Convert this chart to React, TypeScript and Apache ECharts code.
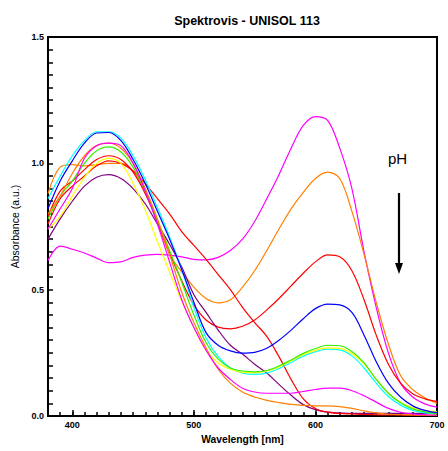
import React, { useEffect, useRef } from "react";
import * as echarts from "echarts";

const wavelengths = [380, 390, 400, 410, 420, 430, 440, 450, 460, 470, 480, 490, 500, 510, 520, 530, 540, 550, 560, 570, 580, 590, 600, 610, 620, 630, 640, 650, 660, 670, 680, 690, 700];

const magentaHigh = [0.615, 0.672, 0.66, 0.645, 0.625, 0.607, 0.61, 0.628, 0.637, 0.64, 0.637, 0.63, 0.62, 0.618, 0.628, 0.655, 0.7, 0.77, 0.86, 0.955, 1.06, 1.15, 1.185, 1.17, 1.06, 0.9, 0.65, 0.43, 0.25, 0.13, 0.075, 0.048, 0.035];
const orangeHigh = [0.88, 0.985, 0.995, 0.99, 0.995, 1.0, 1.0, 0.97, 0.89, 0.77, 0.64, 0.57, 0.51, 0.465, 0.448, 0.46, 0.51, 0.575, 0.655, 0.74, 0.82, 0.885, 0.94, 0.965, 0.94, 0.81, 0.64, 0.45, 0.285, 0.16, 0.105, 0.072, 0.05];
const redHigh = [0.79, 0.89, 0.93, 0.975, 1.015, 1.03, 1.015, 0.965, 0.88, 0.77, 0.645, 0.535, 0.44, 0.38, 0.352, 0.345, 0.355, 0.38, 0.42, 0.465, 0.515, 0.565, 0.61, 0.638, 0.63, 0.575, 0.46, 0.32, 0.205, 0.13, 0.088, 0.068, 0.058];
const blue = [0.82, 0.93, 1.01, 1.08, 1.12, 1.122, 1.09, 1.015, 0.92, 0.81, 0.7, 0.58, 0.45, 0.33, 0.28, 0.258, 0.249, 0.252, 0.268, 0.3, 0.34, 0.385, 0.425, 0.443, 0.44, 0.41, 0.32, 0.215, 0.13, 0.075, 0.04, 0.022, 0.013];
const green = [0.78, 0.87, 0.93, 1.0, 1.05, 1.065, 1.045, 0.985, 0.89, 0.775, 0.655, 0.53, 0.4, 0.29, 0.225, 0.19, 0.178, 0.175, 0.18, 0.198, 0.222, 0.248, 0.267, 0.28, 0.278, 0.255, 0.21, 0.145, 0.09, 0.052, 0.028, 0.016, 0.01];
const yellow = [0.74, 0.79, 0.87, 0.945, 1.0, 1.02, 1.0, 0.92, 0.815, 0.69, 0.57, 0.455, 0.35, 0.26, 0.21, 0.185, 0.173, 0.172, 0.178, 0.194, 0.218, 0.243, 0.26, 0.27, 0.268, 0.247, 0.205, 0.145, 0.09, 0.054, 0.032, 0.022, 0.017];
const cyan = [0.86, 0.95, 1.03, 1.09, 1.125, 1.125, 1.1, 1.03, 0.935, 0.825, 0.71, 0.58, 0.43, 0.31, 0.235, 0.19, 0.17, 0.165, 0.17, 0.188, 0.212, 0.237, 0.255, 0.265, 0.262, 0.238, 0.19, 0.13, 0.077, 0.043, 0.022, 0.012, 0.008];
const magentaLow = [0.74, 0.82, 0.9, 1.02, 1.07, 1.08, 1.07, 1.0, 0.89, 0.76, 0.61, 0.46, 0.35, 0.26, 0.19, 0.145, 0.11, 0.095, 0.09, 0.09, 0.09, 0.097, 0.105, 0.11, 0.11, 0.1, 0.08, 0.055, 0.03, 0.015, 0.008, 0.005, 0.004];
const orangeLow = [0.8, 0.87, 0.96, 1.03, 1.07, 1.08, 1.06, 1.0, 0.9, 0.78, 0.64, 0.49, 0.37, 0.27, 0.185, 0.13, 0.095, 0.075, 0.062, 0.053, 0.046, 0.042, 0.04, 0.04, 0.037, 0.03, 0.02, 0.012, 0.007, 0.005, 0.004, 0.003, 0.003];
const purple = [0.7, 0.78, 0.85, 0.91, 0.945, 0.955, 0.94, 0.9, 0.84, 0.76, 0.68, 0.59, 0.48, 0.41, 0.34, 0.28, 0.245, 0.205, 0.17, 0.125, 0.082, 0.045, 0.025, 0.015, 0.012, 0.01, 0.01, 0.01, 0.01, 0.01, 0.01, 0.01, 0.01];
const redLow = [0.76, 0.86, 0.91, 0.95, 0.99, 1.01, 1.0, 0.97, 0.92, 0.86, 0.8, 0.73, 0.675, 0.62, 0.56, 0.5, 0.43, 0.37, 0.315, 0.235, 0.145, 0.068, 0.03, 0.015, 0.01, 0.008, 0.006, 0.005, 0.004, 0.004, 0.003, 0.003, 0.003];

const seriesDefs: { name: string; color: string; values: number[] }[] = [
  { name: "s1", color: "#ff00ff", values: magentaHigh },
  { name: "s2", color: "#ff8000", values: orangeHigh },
  { name: "s3", color: "#ff0000", values: redHigh },
  { name: "s4", color: "#800080", values: purple },
  { name: "s5", color: "#ff0000", values: redLow },
  { name: "s6", color: "#00ffff", values: cyan },
  { name: "s7", color: "#ffff00", values: yellow },
  { name: "s8", color: "#33ee00", values: green },
  { name: "s9", color: "#ff8000", values: orangeLow },
  { name: "s10", color: "#ff00ff", values: magentaLow },
  { name: "s11", color: "#0000ff", values: blue },
];

const xMajor = [400, 500, 600, 700];

export default function App() {
  const ref = useRef<HTMLDivElement>(null);
  useEffect(() => {
    document.body.style.margin = "0";
    if (!ref.current) return;
    const chart = echarts.init(ref.current, null, { renderer: "svg" });
    const font = "Liberation Sans, Arial, sans-serif";
    const tickStyle = { color: "#000", width: 1.5 };
    chart.setOption({
      animation: false,
      textStyle: { fontFamily: font },
      title: {
        text: "Spektrovis - UNISOL 113",
        left: 242,
        textAlign: "center",
        top: 9,
        textStyle: { fontSize: 12.5, fontWeight: "bold", color: "#000", fontFamily: font },
      },
      grid: {
        left: 48,
        right: 11,
        top: 37,
        bottom: 35,
        show: true,
        borderColor: "#000",
        borderWidth: 2,
        backgroundColor: "transparent",
      },
      xAxis: [
        {
          type: "value",
          min: 380,
          max: 700,
          interval: 10,
          axisLine: { show: true, onZero: false, lineStyle: { color: "#000", width: 2 } },
          axisTick: { show: true, inside: true, length: 4, lineStyle: tickStyle },
          axisLabel: { show: false },
          splitLine: { show: false },
          name: "Wavelength [nm]",
          nameLocation: "middle",
          nameGap: 18,
          nameTextStyle: { fontSize: 10.3, fontWeight: "bold", color: "#000", fontFamily: font },
        },
        {
          type: "value",
          min: 380,
          max: 700,
          position: "bottom",
          axisLine: { show: false },
          axisTick: { show: true, inside: true, length: 6, lineStyle: tickStyle, customValues: xMajor },
          axisLabel: {
            show: true,
            customValues: xMajor,
            margin: 4,
            fontSize: 9,
            fontWeight: "bold",
            color: "#000",
            fontFamily: font,
          },
          splitLine: { show: false },
        },
      ],
      yAxis: {
        type: "value",
        min: 0,
        max: 1.5,
        interval: 0.5,
        axisLine: { show: true, lineStyle: { color: "#000", width: 2 } },
        axisTick: { show: true, inside: true, length: 5, lineStyle: tickStyle },
        minorTick: { show: true, splitNumber: 10, length: 5, lineStyle: tickStyle },
        splitLine: { show: false },
        minorSplitLine: { show: false },
        axisLabel: {
          formatter: (v: number) => v.toFixed(1),
          margin: 4,
          fontSize: 9,
          fontWeight: "bold",
          color: "#000",
          fontFamily: font,
        },
        name: "Absorbance (a.u.)",
        nameLocation: "middle",
        nameGap: 20,
        nameTextStyle: { fontSize: 10.5, color: "#000", fontFamily: font },
      },
      series: seriesDefs.map((s) => ({
        name: s.name,
        type: "line",
        xAxisIndex: 0,
        data: wavelengths.map((w, i) => [w, s.values[i]]),
        showSymbol: false,
        smooth: 0.35,
        lineStyle: { color: s.color, width: 1.2 },
        itemStyle: { color: s.color },
      })),
      graphic: [
        {
          type: "text",
          left: 388,
          top: 151,
          style: { text: "pH", fontSize: 15, fill: "#000", fontFamily: font },
        },
        {
          type: "line",
          shape: { x1: 399, y1: 193, x2: 399, y2: 266 },
          style: { stroke: "#000", lineWidth: 2.2 },
        },
        {
          type: "polygon",
          shape: { points: [[395, 263], [403, 263], [399, 274]] },
          style: { fill: "#000" },
        },
      ],
    });
    return () => chart.dispose();
  }, []);
  return <div ref={ref} style={{ width: 448, height: 451 }} />;
}
